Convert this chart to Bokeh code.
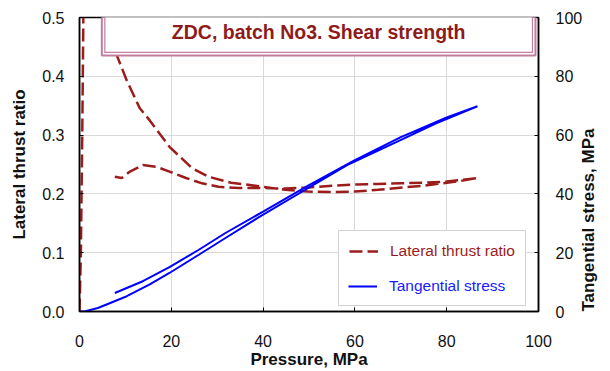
import math
from bokeh.plotting import figure
from bokeh.models import (Range1d, LinearAxis, FixedTicker, NumeralTickFormatter,
                          Legend, LegendItem, Label)
from bokeh.embed import file_html
from bokeh.resources import INLINE

# ---- data ----
pressure_ltr = [0, 0.3, 0.6, 0.9, 2, 4, 6, 7.7, 10.3, 13.1, 15.3, 19.6, 24.5, 28.2,
                33, 38.3, 44.8, 49.7, 55, 60, 65, 70.6, 75, 79, 83, 86.7,
                80, 75, 70, 65, 60, 55, 50, 45, 40, 34.7, 30.3, 26.7, 23.2, 19.6,
                16.8, 13.8, 11, 9.2, 7.7]
lateral_thrust_ratio = [0, 0.1, 0.3, 0.55, 1.0, 0.75, 0.55, 0.444, 0.393, 0.346, 0.325,
                        0.28, 0.244, 0.229, 0.219, 0.214, 0.207, 0.204, 0.203, 0.204,
                        0.207, 0.211, 0.214, 0.218, 0.222, 0.227,
                        0.221, 0.219, 0.218, 0.217, 0.216, 0.214, 0.211, 0.209, 0.210,
                        0.210, 0.212, 0.218, 0.227, 0.238, 0.246, 0.249, 0.238, 0.227,
                        0.229]
pressure_ts = [0, 1.3, 4, 6.7, 10.3, 15.3, 19.6, 26, 31.8, 39, 49.3, 58.3, 69, 77.7, 86.7,
               80, 70, 60, 50, 40, 31.8, 26, 19.6, 13.8, 7.7]
tangential_stress = [0, 0.1, 1.2, 2.9, 5.2, 9.2, 13.1, 19.3, 25, 32, 41.5, 49.8, 57.6,
                     64, 69.8, 66, 59.3, 51.5, 43, 34, 26.7, 21, 15.1, 10.3, 6.3]

x_ticks = [0, 20, 40, 60, 80, 100]
ratio_ticks = [0.0, 0.1, 0.2, 0.3, 0.4, 0.5]
stress_ticks = [0, 20, 40, 60, 80, 100]

title_text = "ZDC, batch No3. Shear strength"
RED = "#9c1c1c"
BLUE = "#0000ff"
PINK = "#c27c9e"
FONT = "Liberation Sans"

p = figure(width=610, height=371, output_backend="svg", toolbar_location=None,
           x_range=Range1d(0, 100), y_range=Range1d(0, 0.5),
           min_border_left=79, min_border_right=68, min_border_top=17,
           min_border_bottom=59)
p.extra_y_ranges = {"ts": Range1d(0, 100)}
p.background_fill_color = "white"
p.border_fill_color = "white"
p.outline_line_color = "black"
p.outline_line_width = 1.5

p.xaxis.ticker = FixedTicker(ticks=x_ticks)
p.yaxis.ticker = FixedTicker(ticks=ratio_ticks)
p.yaxis.formatter = NumeralTickFormatter(format="0.0")
p.xaxis.axis_label = "Pressure, MPa"
p.yaxis.axis_label = "Lateral thrust ratio"

ax_r = LinearAxis(y_range_name="ts", ticker=FixedTicker(ticks=stress_ticks),
                  axis_label="Tangential stress, MPa")
p.add_layout(ax_r, "right")

for ax in [p.xaxis[0], p.yaxis[0], ax_r]:
    ax.axis_line_color = "black"
    ax.axis_line_width = 1.5
    ax.major_tick_in = 4
    ax.major_tick_out = 0
    ax.major_tick_line_color = "black"
    ax.minor_tick_line_color = None
    ax.major_label_text_font = FONT
    ax.major_label_text_font_size = "16px"
    ax.major_label_text_color = "#111111"
    ax.axis_label_text_font = FONT
    ax.axis_label_text_font_size = "17px"
    ax.axis_label_text_font_style = "bold"
    ax.axis_label_text_color = "#111111"

p.yaxis[0].major_label_standoff = 15
p.yaxis[0].axis_label_standoff = 10
ax_r.major_label_standoff = 17
ax_r.axis_label_standoff = 3
ax_r.axis_label_orientation = math.pi / 2
ax_r.axis_label_align = "start"
p.xaxis[0].major_label_standoff = 23
p.xaxis[0].axis_label_standoff = 0

p.xgrid.ticker = FixedTicker(ticks=x_ticks[1:-1])
p.ygrid.ticker = FixedTicker(ticks=ratio_ticks[1:-1])
p.grid.grid_line_color = "#d9d9d9"
p.grid.grid_line_width = 1

r_ltr = p.line(pressure_ltr, lateral_thrust_ratio, line_color=RED, line_width=2.5,
               line_dash="13 5")
r_ts = p.line(pressure_ts, tangential_stress, y_range_name="ts", line_color=BLUE,
              line_width=2)

# ---- title box (double border) ----
outer = Label(x=52.1, y=0.4746, text=title_text, text_align="center",
              text_baseline="middle", text_font=FONT, text_font_size="19.5px",
              text_font_style="bold", text_color="white",
              padding=dict(left=70, right=70, top=12, bottom=12),
              background_fill_color="white", background_fill_alpha=1.0,
              border_line_color=PINK, border_line_width=2)
inner = Label(x=52.1, y=0.4746, text=title_text, text_align="center",
              text_baseline="middle", text_font=FONT, text_font_size="19.5px",
              text_font_style="bold", text_color="#8f1a1a",
              padding=dict(left=67, right=67, top=9, bottom=9),
              background_fill_color="white", background_fill_alpha=1.0,
              border_line_color=PINK, border_line_width=1.2)
p.add_layout(outer)
p.add_layout(inner)

# ---- legend ----
leg_a = Legend(items=[LegendItem(label="Lateral thrust ratio", renderers=[r_ltr]),
                      LegendItem(label="Tangential stress", renderers=[r_ts])],
               location=(259, 5), padding=10, spacing=14, margin=0,
               glyph_width=29, glyph_height=20, label_height=20, label_standoff=12,
               label_text_font=FONT, label_text_font_size="15.5px",
               label_text_color=RED, border_line_color="#a6a6a6",
               border_line_width=1.5, background_fill_color="white",
               background_fill_alpha=1.0)
leg_b = Legend(items=[LegendItem(label="Tangential stress", renderers=[r_ts])],
               location=(261, 7), padding=8, spacing=14, margin=0,
               glyph_width=29, glyph_height=20, label_height=20, label_standoff=12,
               label_text_font=FONT, label_text_font_size="15.5px",
               label_text_color="#1a1aff", border_line_alpha=0.0,
               background_fill_color="white", background_fill_alpha=1.0)
p.add_layout(leg_a)
p.add_layout(leg_b)

open("out.html", "w").write(file_html(p, INLINE))
